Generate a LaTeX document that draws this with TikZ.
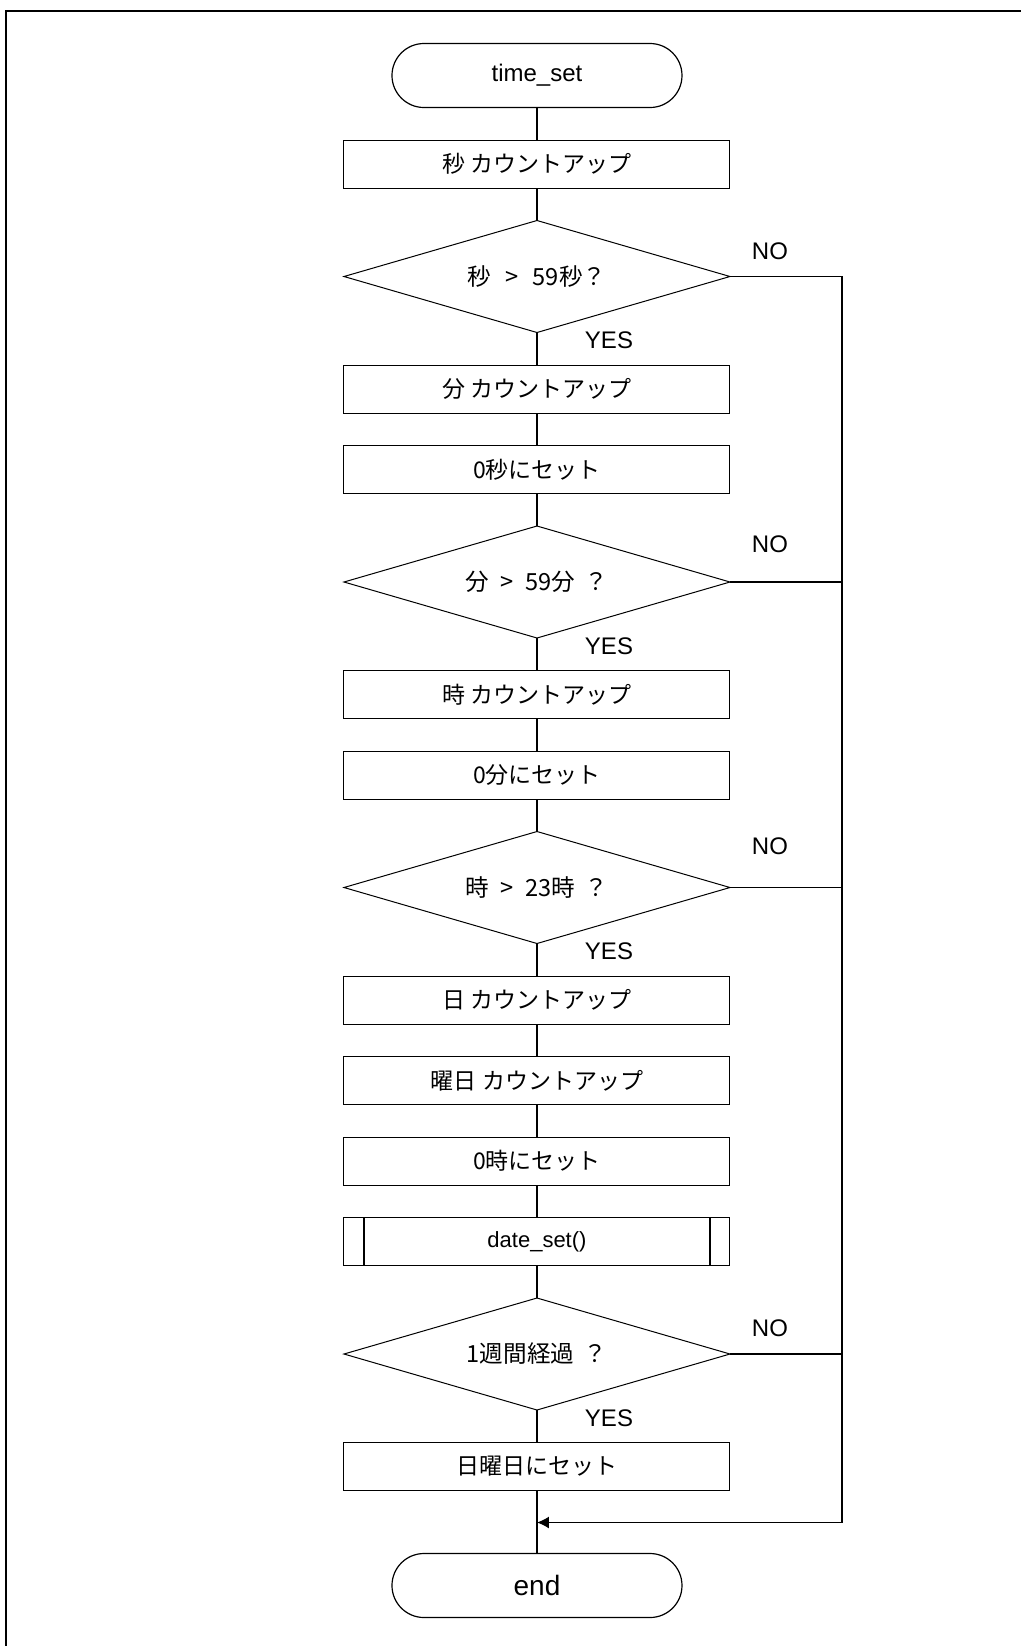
\documentclass[tikz,border=0pt]{standalone}
\usepackage{fontspec}
\setmainfont{Liberation Sans}
\newfontfamily\jpfont{Noto Sans CJK JP}
\usetikzlibrary{shapes.geometric, positioning, arrows.meta}

\begin{document}
\begin{tikzpicture}[
    line width=0.6pt,
    >={Latex[length=6pt,width=6pt]},
    node distance=16.25pt,
    term/.style={draw, rounded corners=16pt, minimum width=145pt,
        minimum height=32pt, inner sep=0pt, outer sep=0pt},
    proc/.style={draw, line width=0.5pt, minimum width=193pt,
        minimum height=24pt, inner sep=0pt, outer sep=0pt,
        font=\jpfont\fontsize{11.5}{13}\selectfont},
    subproc/.style={proc, font=\fontsize{11}{13}\selectfont},
    decide/.style={draw, diamond, aspect=3.45, line width=0.5pt,
        minimum width=193pt, minimum height=56pt, inner sep=0pt,
        outer sep=0pt, font=\jpfont\fontsize{11.8}{13}\selectfont},
    lbl/.style={inner sep=0pt, font=\fontsize{12}{14}\selectfont}
]
    \useasboundingbox (-268.5pt,37.75pt) rectangle (242pt,-785.25pt);
    % frame
    \draw[line width=1pt] (-265.5pt,-800pt) -- (-265.5pt,32.25pt) -- (260pt,32.25pt);

    % Add the steps
    \node[term, font=\fontsize{12}{14}\selectfont] (start) {time\_set};
    \node[proc,
        below=of start
        ] (cntsec) {秒 カウントアップ};
    \node[decide,
        below=of cntsec
        ] (chksec) {秒\hspace{0.6em}>\hspace{0.6em}59秒？};
    \node[proc,
        below=of chksec
        ] (cntmin) {分 カウントアップ};
    \node[proc,
        below=of cntmin
        ] (clrsec) {0秒にセット};
    \node[decide,
        below=of clrsec
        ] (chkmin) {分\hspace{0.5em}>\hspace{0.5em}59分\hspace{0.4em}？};
    \node[proc,
        below=of chkmin
        ] (cnthour) {時 カウントアップ};
    \node[proc,
        below=of cnthour
        ] (clrmin) {0分にセット};
    \node[decide,
        below=of clrmin
        ] (chkhour) {時\hspace{0.5em}>\hspace{0.5em}23時\hspace{0.4em}？};
    \node[proc,
        below=of chkhour
        ] (cntday) {日 カウントアップ};
    \node[proc,
        below=of cntday
        ] (cntwday) {曜日 カウントアップ};
    \node[proc,
        below=of cntwday
        ] (clrhour) {0時にセット};
    \node[subproc,
        below=of clrhour
        ] (dateset) {date\_set()};
    \node[decide,
        below=of dateset
        ] (chkweek) {1週間経過\hspace{0.4em}？};
    \node[proc,
        below=of chkweek
        ] (setsun) {日曜日にセット};
    \node[term,
        below=31.5pt of setsun,
        font=\fontsize{14}{16}\selectfont
        ] (end) {end};

    \draw ([xshift=10pt]dateset.north west) -- ([xshift=10pt]dateset.south west)
          ([xshift=-10pt]dateset.north east) -- ([xshift=-10pt]dateset.south east);

    \coordinate[below=16pt of setsun] (join);
    \coordinate[right=56pt of chksec.east] (rail);

    % labels
    \node[lbl] (yes1) at ([xshift=36pt,yshift=-4pt]chksec.south) {YES};
    \node[lbl] (yes2) at ([xshift=36pt,yshift=-4pt]chkmin.south) {YES};
    \node[lbl] (yes3) at ([xshift=36pt,yshift=-4pt]chkhour.south) {YES};
    \node[lbl] (yes4) at ([xshift=36pt,yshift=-4pt]chkweek.south) {YES};
    \node[lbl] (no1) at ([xshift=20pt,yshift=12.5pt]chksec.east) {NO};
    \node[lbl] (no2) at ([xshift=20pt,yshift=19pt]chkmin.east) {NO};
    \node[lbl] (no3) at ([xshift=20pt,yshift=20.5pt]chkhour.east) {NO};
    \node[lbl] (no4) at ([xshift=20pt,yshift=13pt]chkweek.east) {NO};

    \draw (start) edge (cntsec)
          (cntsec) edge (chksec)
          (chksec) edge (cntmin)
          (cntmin) edge (clrsec)
          (clrsec) edge (chkmin)
          (chkmin) edge (cnthour)
          (cnthour) edge (clrmin)
          (clrmin) edge (chkhour)
          (chkhour) edge (cntday)
          (cntday) edge (cntwday)
          (cntwday) edge (clrhour)
          (clrhour) edge (dateset)
          (dateset) edge (chkweek)
          (chkweek) edge (setsun)
          (setsun) edge (end);

    \draw[->] (chksec.east) -- (rail) |- (join);
    \draw (chkmin.east) -- (chkmin.east -| rail)
          (chkhour.east) -- (chkhour.east -| rail)
          (chkweek.east) -- (chkweek.east -| rail);
\end{tikzpicture}
\end{document}
